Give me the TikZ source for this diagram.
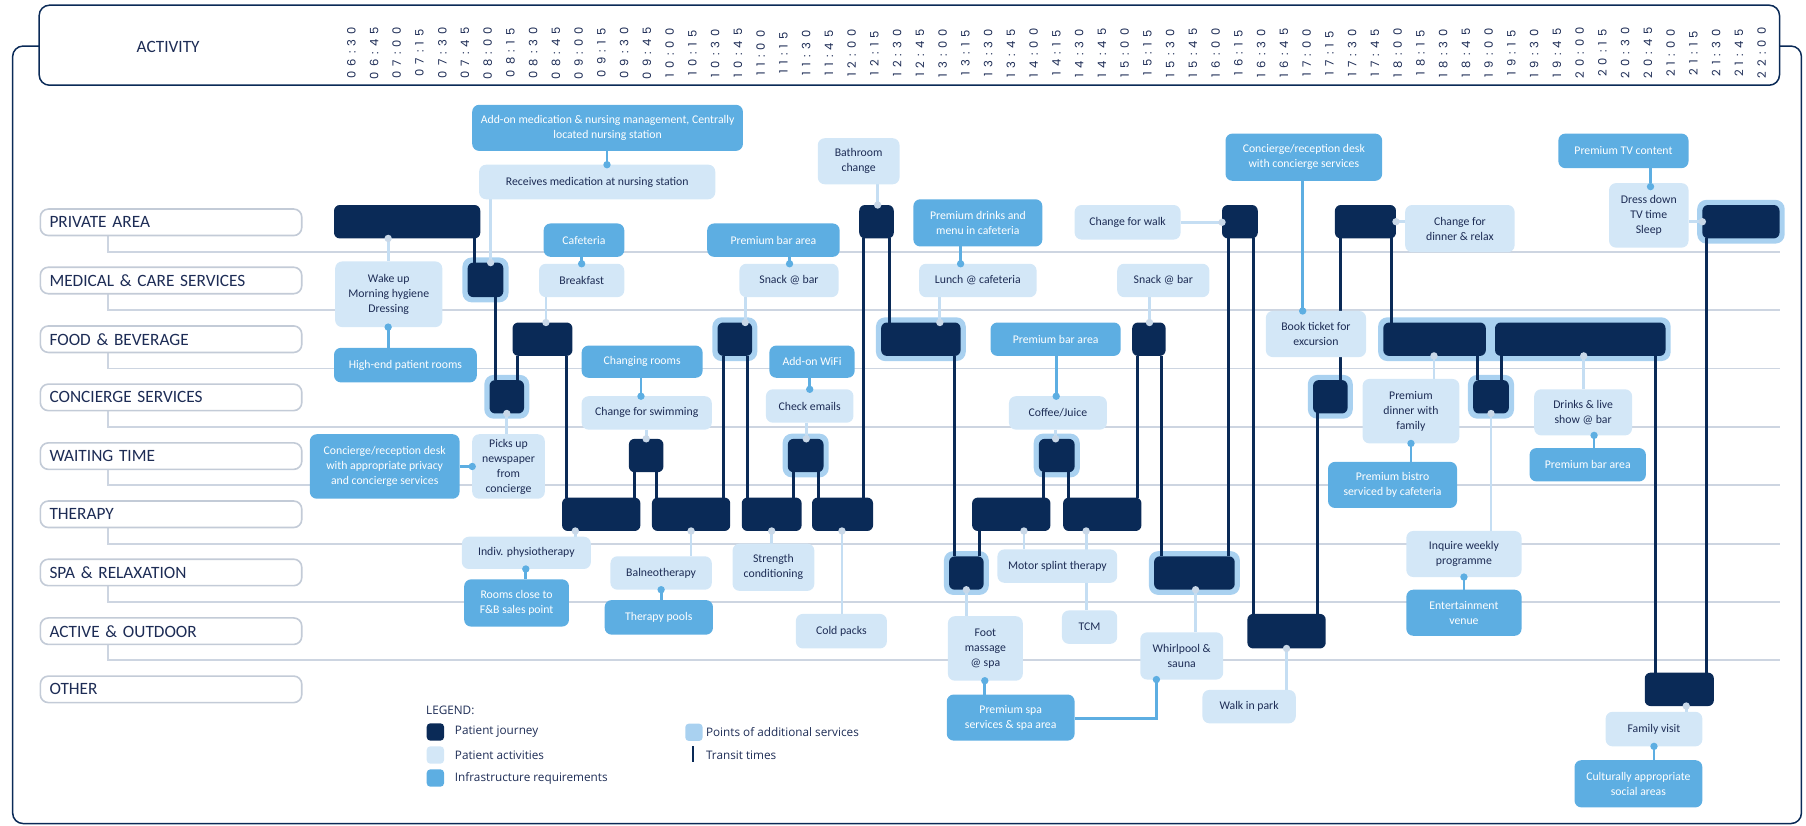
\documentclass[tikz,border=0pt]{standalone}
\usepackage{fontspec}
\setmainfont{Carlito}
\newfontfamily\legfont{Open Sans}
\newfontfamily\timefont[LetterSpace=45]{Poppins}
\usetikzlibrary{fit,calc}
\definecolor{navy}{HTML}{0A2A57}
\definecolor{actc}{HTML}{D3E7F7}
\definecolor{infc}{HTML}{5DAEE2}
\definecolor{haloc}{HTML}{A9D1F0}
\definecolor{actline}{HTML}{C5DEF3}
\definecolor{dotc}{HTML}{C9D8E8}
\definecolor{gridc}{HTML}{CDD5E1}
\definecolor{labc}{HTML}{C3CBD7}
\definecolor{txt}{HTML}{1D2C55}
\pgfdeclarelayer{grid}\pgfdeclarelayer{halo}\pgfdeclarelayer{links}
\pgfsetlayers{grid,halo,links,main}
\newcommand\mkbox[7]{\node[#1, minimum width={(#5)-(#3)}, minimum height={(#6)-(#4)}] (#2) at ({((#3)+(#5))/2},{((#4)+(#6))/2}) {#7};}
\tikzset{
  every node/.style={inner sep=0pt, outer sep=0pt},
  jb/.style={fill=navy, rounded corners=5pt},
  act/.style={fill=actc, rounded corners=6pt, text=txt, align=center, font=\fontsize{10.2}{13}\selectfont},
  inf/.style={fill=infc, rounded corners=6pt, text=white, align=center, font=\fontsize{10.2}{13}\selectfont},
  halobox/.style={fill=haloc, rounded corners=8pt, inner sep=4.5pt},
  jline/.style={draw=navy, line width=2.6pt},
  aline/.style={draw=actline, line width=2.4pt},
  iline/.style={draw=infc, line width=2.4pt},
  adot/.style={fill=dotc},
  idot/.style={fill=infc},
  gridline/.style={draw=gridc, line width=1.6pt},
  rowlab/.style={draw=labc, line width=1.4pt, fill=white, rounded corners=7pt, text=txt,
    font=\fontsize{15}{15}\selectfont, anchor=west, minimum height=23pt,
    text width=211pt, inner xsep=8pt, align=left},
  timelab/.style={rotate=90, text=txt, font=\timefont\fontsize{10}{10}\selectfont},
  legtext/.style={anchor=west, text=txt, font=\legfont\fontsize{10.2}{12}\selectfont},
  legbox/.style={minimum width=15pt, minimum height=15pt, rounded corners=3pt},
}
\begin{document}
\begin{tikzpicture}[x=1pt,y=-1pt]
\useasboundingbox (0,0) rectangle (1568,717);
% outer frame and header
\draw[navy, line width=1.3pt, rounded corners=9pt] (11,40) rectangle (1564,715);
\node[draw=navy, fill=white, line width=1.3pt, rounded corners=9pt, minimum width=1511pt, minimum height=69.5pt] (hdr) at (789.5,39.25) {};
\node[text=txt, font=\fontsize{15}{15}\selectfont] (actv) at (146,41) {ACTIVITY};
\foreach \i in {0,...,62}{
  \pgfmathtruncatemacro\tm{390+15*\i}
  \pgfmathtruncatemacro\hh{\tm/60}
  \pgfmathtruncatemacro\mm{\tm-60*\hh}
  \node[timelab] (t\i) at ({305+19.75*\i},46) {\ifnum\hh<10 0\fi\hh:\ifnum\mm<10 0\fi\mm};
}
% row labels
\node[rowlab] (r1) at (35,193) {PRIVATE AREA};
\node[rowlab] (r2) at (35,243.5) {MEDICAL \& CARE SERVICES};
\node[rowlab] (r3) at (35,294.5) {FOOD \& BEVERAGE};
\node[rowlab] (r4) at (35,345) {CONCIERGE SERVICES};
\node[rowlab] (r5) at (35,396) {WAITING TIME};
\node[rowlab] (r6) at (35,446.5) {THERAPY};
\node[rowlab] (r7) at (35,497) {SPA \& RELAXATION};
\node[rowlab] (r8) at (35,548) {ACTIVE \& OUTDOOR};
\node[rowlab] (r9) at (35,598.5) {OTHER};
\begin{pgfonlayer}{grid}
\draw[gridline] (r1.south -| 94,0) |- (1545,219);
\draw[gridline] (r2.south -| 94,0) |- (1545,269.5);
\draw[gridline] (r3.south -| 94,0) |- (1545,320);
\draw[gridline] (r4.south -| 94,0) |- (1545,370.5);
\draw[gridline] (r5.south -| 94,0) |- (1545,421);
\draw[gridline] (r6.south -| 94,0) |- (1545,472);
\draw[gridline] (r7.south -| 94,0) |- (1545,522.5);
\draw[gridline] (r8.south -| 94,0) |- (1545,573);
\end{pgfonlayer}
% patient journey boxes
\mkbox{jb}{p1}{290}{178}{417}{207}{}
\mkbox{jb}{m1}{406}{228}{437}{258}{}
\mkbox{jb}{c1}{425}{330}{455}{359}{}
\mkbox{jb}{f1}{445}{280}{497}{309}{}
\mkbox{jb}{tA}{488}{432}{556}{461}{}
\mkbox{jb}{w1}{546}{381}{576}{410}{}
\mkbox{jb}{tB}{566}{432}{634}{461}{}
\mkbox{jb}{f2}{623}{280}{653}{309}{}
\mkbox{jb}{tC}{644}{432}{696}{461}{}
\mkbox{jb}{w2}{684}{381}{715}{410}{}
\mkbox{jb}{tD}{705}{432}{758}{461}{}
\mkbox{jb}{p2}{746}{178}{776}{207}{}
\mkbox{jb}{f3}{765}{280}{834}{309}{}
\mkbox{jb}{s1}{824}{483}{854}{512}{}
\mkbox{jb}{tE}{844}{432}{912}{461}{}
\mkbox{jb}{w3}{902}{381}{933}{410}{}
\mkbox{jb}{tF}{923}{432}{991}{461}{}
\mkbox{jb}{f4}{983}{280}{1012}{309}{}
\mkbox{jb}{s2}{1002}{483}{1072}{512}{}
\mkbox{jb}{p3}{1061}{178}{1092}{207}{}
\mkbox{jb}{a1}{1083}{533}{1151}{563}{}
\mkbox{jb}{c2}{1140}{330}{1170}{359}{}
\mkbox{jb}{p4}{1159}{178}{1212}{207}{}
\mkbox{jb}{f5}{1201}{280}{1290}{309}{}
\mkbox{jb}{c3}{1279}{330}{1310}{359}{}
\mkbox{jb}{f6}{1298}{280}{1446}{309}{}
\mkbox{jb}{o1}{1428}{584}{1488}{613}{}
\mkbox{jb}{p5}{1478}{178}{1545}{207}{}
% halos (points of additional services)
\begin{pgfonlayer}{halo}
\node[halobox, fit=(m1)] (hm1) {};
\node[halobox, fit=(c1)] (hc1) {};
\node[halobox, fit=(f2)] (hf2) {};
\node[halobox, fit=(w2)] (hw2) {};
\node[halobox, fit=(f3)] (hf3) {};
\node[halobox, fit=(s1)] (hs1) {};
\node[halobox, fit=(w3)] (hw3) {};
\node[halobox, fit=(s2)] (hs2) {};
\node[halobox, fit=(c2)] (hc2) {};
\node[halobox, fit=(c3)] (hc3) {};
\node[halobox, fit=(f5)(f6)] (hf56) {};
\node[halobox, fit=(p5)] (hp5) {};
\end{pgfonlayer}
% activities and infrastructure
\mkbox{inf}{A1}{410}{91}{645}{131}{Add-on medication \& nursing management, Centrally\\located nursing station}
\mkbox{act}{A2}{416}{143}{621}{173}{Receives medication at nursing station}
\mkbox{act}{B1}{291}{227}{384}{284}{Wake up\\Morning hygiene\\Dressing}
\mkbox{inf}{B2}{290}{302}{414}{332}{High-end patient rooms}
\mkbox{inf}{C1}{472}{194}{542}{223}{Cafeteria}
\mkbox{act}{C2}{468}{229}{542}{258}{Breakfast}
\mkbox{inf}{D1}{505}{300}{610}{328}{Changing rooms}
\mkbox{act}{D2}{505}{344}{618}{373}{Change for swimming}
\mkbox{inf}{E1}{614}{194}{729}{223}{Premium bar area}
\mkbox{act}{E2}{642}{229}{728}{258}{Snack @ bar}
\mkbox{inf}{F1}{668}{300}{742}{328}{Add-on WiFi}
\mkbox{act}{F2}{665}{338}{741}{367}{Check emails}
\mkbox{act}{G1}{710}{120}{781}{160}{Bathroom\\change}
\mkbox{inf}{H1}{793}{173}{905}{214}{Premium drinks and\\menu in cafeteria}
\mkbox{act}{H2}{798}{229}{900}{258}{Lunch @ cafeteria}
\mkbox{act}{I1}{401}{466}{513}{494}{Indiv. physiotherapy}
\mkbox{inf}{I2}{403}{503}{494}{544}{Rooms close to\\F\&B sales point}
\mkbox{act}{J1}{530}{483}{618}{512}{Balneotherapy}
\mkbox{inf}{J2}{525}{521}{619}{551}{Therapy pools}
\mkbox{act}{K1}{636}{472}{707}{513}{Strength\\conditioning}
\mkbox{act}{L1}{691}{533}{770}{563}{Cold packs}
\mkbox{act}{M1}{823}{535}{888}{591}{Foot\\massage\\@ spa}
\mkbox{inf}{M2}{822}{603}{933}{643}{Premium spa\\services \& spa area}
\mkbox{act}{N1}{866}{477}{970}{506}{Motor splint therapy}
\mkbox{act}{N2}{922}{530}{970}{559}{TCM}
\mkbox{inf}{O1}{860}{280}{973}{309}{Premium bar area}
\mkbox{act}{O2}{876}{344}{961}{373}{Coffee/Juice}
\mkbox{act}{P1}{933}{178}{1025}{208}{Change for walk}
\mkbox{act}{Q1}{970}{229}{1050}{258}{Snack @ bar}
\mkbox{act}{R1}{990}{549}{1062}{590}{Whirlpool \&\\sauna}
\mkbox{act}{S1}{1044}{599}{1125}{628}{Walk in park}
\mkbox{inf}{T1}{1064}{116}{1200}{157}{Concierge/reception desk\\with concierge services}
\mkbox{act}{T2}{1099}{270}{1186}{310}{Book ticket for\\excursion}
\mkbox{act}{U1}{1220}{178}{1315}{219}{Change for\\dinner \& relax}
\mkbox{act}{V1}{1183}{329}{1267}{385}{Premium\\dinner with\\family}
\mkbox{inf}{V2}{1153}{401}{1265}{441}{Premium bistro\\serviced by cafeteria}
\mkbox{act}{W1a}{1221}{461}{1321}{501}{Inquire weekly\\programme}
\mkbox{inf}{W2a}{1221}{512}{1321}{552}{Entertainment\\venue}
\mkbox{act}{X1}{1332}{338}{1417}{378}{Drinks \& live\\show @ bar}
\mkbox{inf}{X2}{1328}{389}{1429}{418}{Premium bar area}
\mkbox{inf}{Y1}{1353}{116}{1466}{146}{Premium TV content}
\mkbox{act}{Y2}{1397}{159}{1466}{215}{Dress down\\TV time\\Sleep}
\mkbox{act}{Z1}{1394}{618}{1478}{648}{Family visit}
\mkbox{inf}{Z2}{1367}{660}{1478}{701}{Culturally appropriate\\social areas}
\mkbox{inf}{AA}{269}{377}{399}{433}{Concierge/reception desk\\with appropriate privacy\\and concierge services}
\mkbox{act}{BB}{410}{377}{473}{433}{Picks up\\newspaper\\from\\concierge}
% links
\begin{pgfonlayer}{links}
% journey transit lines
\draw[jline] (p1.south -| 412,0) -- (m1.north -| 412,0);
\draw[jline] (m1.south -| 430,0) -- (c1.north -| 430,0);
\draw[jline] (c1.north -| 449,0) -- (f1.south -| 449,0);
\draw[jline] (f1.south -| 492,0) -- (tA.north -| 492,0);
\draw[jline] (tA.north -| 551,0) -- (w1.south -| 551,0);
\draw[jline] (w1.south -| 570,0) -- (tB.north -| 570,0);
\draw[jline] (tB.north -| 628,0) -- (f2.south -| 628,0);
\draw[jline] (f2.south -| 649,0) -- (tC.north -| 649,0);
\draw[jline] (tC.north -| 689,0) -- (w2.south -| 689,0);
\draw[jline] (w2.south -| 711,0) -- (tD.north -| 711,0);
\draw[jline] (tD.north -| 750,0) -- (p2.south -| 750,0);
\draw[jline] (p2.south -| 772,0) -- (f3.north -| 772,0);
\draw[jline] (f3.south -| 829,0) -- (s1.north -| 829,0);
\draw[jline] (s1.north -| 850,0) -- (tE.south -| 850,0);
\draw[jline] (tE.north -| 906,0) -- (w3.south -| 906,0);
\draw[jline] (w3.south -| 928,0) -- (tF.north -| 928,0);
\draw[jline] (tF.north -| 988,0) -- (f4.south -| 988,0);
\draw[jline] (f4.south -| 1008,0) -- (s2.north -| 1008,0);
\draw[jline] (s2.north -| 1067,0) -- (p3.south -| 1067,0);
\draw[jline] (p3.south -| 1088,0) -- (a1.north -| 1088,0);
\draw[jline] (a1.north -| 1144,0) -- (c2.south -| 1144,0);
\draw[jline] (c2.north -| 1164,0) -- (p4.south -| 1164,0);
\draw[jline] (p4.south -| 1208,0) -- (f5.north -| 1208,0);
\draw[jline] (f5.south -| 1283,0) -- (c3.north -| 1283,0);
\draw[jline] (c3.north -| 1304,0) -- (f6.south -| 1304,0);
\draw[jline] (f6.south -| 1437,0) -- (o1.north -| 1437,0);
\draw[jline] (o1.north -| 1482,0) -- (p5.south -| 1482,0);
% infrastructure to activity
\draw[iline] (A1.south -| 527,0) -- (A2.north -| 527,0);
\draw[iline] (B1.south -| 337,0) -- (B2.north -| 337,0);
\draw[iline] (C1.south -| 505,0) -- (C2.north -| 505,0);
\draw[iline] (D1.south -| 556.5,0) -- (D2.north -| 556.5,0);
\draw[iline] (E1.south -| 685.5,0) -- (E2.north -| 685.5,0);
\draw[iline] (F1.south -| 703,0) -- (F2.north -| 703,0);
\draw[iline] (H1.south -| 834,0) -- (H2.north -| 834,0);
\draw[iline] (I1.south -| 456.5,0) -- (I2.north -| 456.5,0);
\draw[iline] (J1.south -| 574,0) -- (J2.north -| 574,0);
\draw[iline] (M1.south -| 855,0) -- (M2.north -| 855,0);
\draw[iline] (M2.east |- 0,623.5) -| (R1.south -| 1004,0);
\draw[iline] (O1.south -| 917,0) -- (O2.north -| 917,0);
\draw[iline] (T1.south -| 1131,0) -- (T2.north -| 1131,0);
\draw[iline] (V1.south -| 1225,0) -- (V2.north -| 1225,0);
\draw[iline] (W1a.south -| 1271,0) -- (W2a.north -| 1271,0);
\draw[iline] (X1.south -| 1384,0) -- (X2.north -| 1384,0);
\draw[iline] (Y1.south -| 1433,0) -- (Y2.north -| 1433,0);
\draw[iline] (Z1.south -| 1436,0) -- (Z2.north -| 1436,0);
\draw[iline] (AA.east) -- (BB.west);
% activity to journey
\draw[aline] (A2.south -| 426,0) -- (m1.north -| 426,0);
\draw[aline] (p1.south -| 337,0) -- (B1.north -| 337,0);
\draw[aline] (C2.south -| 474,0) -- (f1.north -| 474,0);
\draw[aline] (D2.south -| 561,0) -- (w1.north -| 561,0);
\draw[aline] (E2.south -| 647,0) -- (f2.north -| 647,0);
\draw[aline] (F2.south -| 700,0) -- (w2.north -| 700,0);
\draw[aline] (G1.south -| 762,0) -- (p2.north -| 762,0);
\draw[aline] (H2.south -| 816,0) -- (f3.north -| 816,0);
\draw[aline] (tA.south -| 499.5,0) -- (I1.north -| 499.5,0);
\draw[aline] (tB.south -| 600,0) -- (J1.north -| 600,0);
\draw[aline] (tC.south -| 670,0) -- (K1.north -| 670,0);
\draw[aline] (tD.south -| 731,0) -- (L1.north -| 731,0);
\draw[aline] (s1.south -| 839,0) -- (M1.north -| 839,0);
\draw[aline] (tE.south -| 889,0) -- (N1.north -| 889,0);
\draw[aline] (tF.south -| 943,0) -- (N2.north -| 943,0);
\draw[aline] (O2.south -| 916.5,0) -- (w3.north -| 916.5,0);
\draw[aline] (P1.east) -- (P1.east -| p3.west);
\draw[aline] (Q1.south -| 998,0) -- (f4.north -| 998,0);
\draw[aline] (s2.south -| 1038,0) -- (R1.north -| 1038,0);
\draw[aline] (a1.south -| 1117,0) -- (S1.north -| 1117,0);
\draw[aline] (p4.east) -- (p4.east -| U1.west);
\draw[aline] (f5.south -| 1245,0) -- (V1.north -| 1245,0);
\draw[aline] (c3.south -| 1294.5,0) -- (W1a.north -| 1294.5,0);
\draw[aline] (f6.south -| 1375,0) -- (X1.north -| 1375,0);
\draw[aline] (p5.west) -- (p5.west -| Y2.east);
\draw[aline] (o1.south -| 1464,0) -- (Z1.north -| 1464,0);
\draw[aline] (BB.north -| 440,0) -- (c1.south -| 440,0);
\end{pgfonlayer}
% dots
\fill[idot] (A2.north -| 527,0) circle (3.2);
\fill[idot] (B1.south -| 337,0) circle (3.2);
\fill[idot] (C2.north -| 505,0) circle (3.2);
\fill[idot] (D2.north -| 556.5,0) circle (3.2);
\fill[idot] (E2.north -| 685.5,0) circle (3.2);
\fill[idot] (F2.north -| 703,0) circle (3.2);
\fill[idot] (H2.north -| 834,0) circle (3.2);
\fill[idot] (I1.south -| 456.5,0) circle (3.2);
\fill[idot] (J1.south -| 574,0) circle (3.2);
\fill[idot] (M1.south -| 855,0) circle (3.2);
\fill[idot] (R1.south -| 1004,0) circle (3.2);
\fill[idot] (O2.north -| 917,0) circle (3.2);
\fill[idot] (T2.north -| 1131,0) circle (3.2);
\fill[idot] (V1.south -| 1225,0) circle (3.2);
\fill[idot] (W1a.south -| 1271,0) circle (3.2);
\fill[idot] (X1.south -| 1384,0) circle (3.2);
\fill[idot] ([yshift=-3pt]Y2.north -| 1433,0) circle (3.2);
\fill[idot] (Z1.south -| 1436,0) circle (3.2);
\fill[idot] (BB.west) circle (3.2);
\fill[adot] (m1.north -| 426,0) circle (3.2);
\fill[adot] (p1.south -| 337,0) circle (3.2);
\fill[adot] (f1.north -| 474,0) circle (3.2);
\fill[adot] (w1.north -| 561,0) circle (3.2);
\fill[adot] (f2.north -| 647,0) circle (3.2);
\fill[adot] (w2.north -| 700,0) circle (3.2);
\fill[adot] (p2.north -| 762,0) circle (3.2);
\fill[adot] (f3.north -| 816,0) circle (3.2);
\fill[adot] (tA.south -| 499.5,0) circle (3.2);
\fill[adot] (tB.south -| 600,0) circle (3.2);
\fill[adot] (tC.south -| 670,0) circle (3.2);
\fill[adot] (tD.south -| 731,0) circle (3.2);
\fill[adot] (s1.south -| 839,0) circle (3.2);
\fill[adot] (tE.south -| 889,0) circle (3.2);
\fill[adot] (tF.south -| 943,0) circle (3.2);
\fill[adot] (w3.north -| 916.5,0) circle (3.2);
\fill[adot] (P1.east -| p3.west) circle (3.2);
\fill[adot] (f4.north -| 998,0) circle (3.2);
\fill[adot] (s2.south -| 1038,0) circle (3.2);
\fill[adot] (a1.south -| 1117,0) circle (3.2);
\fill[adot] (p4.east) circle (3.2);
\fill[adot] (f5.south -| 1245,0) circle (3.2);
\fill[adot] (c3.south -| 1294.5,0) circle (3.2);
\fill[adot] (f6.south -| 1375,0) circle (3.2);
\fill[adot] (p5.west) circle (3.2);
\fill[adot] (o1.south -| 1464,0) circle (3.2);
\fill[adot] (c1.south -| 440,0) circle (3.2);
% legend
\node[legtext] (lg) at (370,617) {LEGEND:};
\node[legbox, fill=navy] (lg1) at (378,635.5) {};
\node[legtext] (lg1t) at (395,635.5) {Patient journey};
\node[legbox, fill=actc] (lg2) at (378,655.5) {};
\node[legtext] (lg2t) at (395,655.5) {Patient activities};
\node[legbox, fill=infc] (lg3) at (378,675.5) {};
\node[legtext] (lg3t) at (395,675.5) {Infrastructure requirements};
\node[legbox, fill=haloc] (lg4) at (602.5,635.8) {};
\node[legtext] (lg4t) at (613,635.5) {Points of additional services};
\coordinate (lg5a) at (601.7,648);
\coordinate (lg5b) at (601.7,662);
\draw[navy, line width=2.5pt] (lg5a) -- (lg5b);
\node[legtext] (lg5t) at (613,655.5) {Transit times};
\end{tikzpicture}
\end{document}
